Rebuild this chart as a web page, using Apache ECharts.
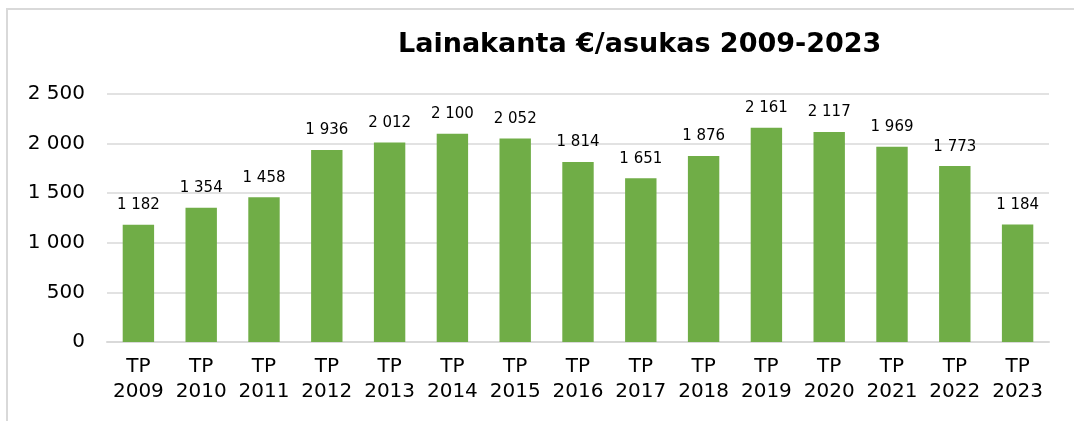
<!DOCTYPE html>
<html><head><meta charset="utf-8">
<script src="https://cdn.jsdelivr.net/npm/echarts@6/dist/echarts.min.js"></script>
<style>html,body{margin:0;padding:0;background:#fff}#c{width:1074px;height:421px}</style>
</head><body><div id="c"></div>
<script>
const title = 'Lainakanta €/asukas 2009-2023';
const categories = ['TP\n2009','TP\n2010','TP\n2011','TP\n2012','TP\n2013','TP\n2014','TP\n2015','TP\n2016','TP\n2017','TP\n2018','TP\n2019','TP\n2020','TP\n2021','TP\n2022','TP\n2023'];
const values = [1182,1354,1458,1936,2012,2100,2052,1814,1651,1876,2161,2117,1969,1773,1184];
const yTicks = [0,500,1000,1500,2000,2500];

function fmt(v){ return String(v).replace(/\B(?=(\d{3})+(?!\d))/g,' '); }
const FONT = 'DejaVu Sans';
const chart = echarts.init(document.getElementById('c'), null, {renderer:'canvas'});
chart.setOption({
  animation:false,
  backgroundColor:'#fff',
  graphic:[{type:'rect', shape:{x:7,y:9,width:1200,height:600}, style:{fill:'none', stroke:'#d9d9d9', lineWidth:2}, silent:true}],
  title:{text:title, left:393, top:26, textStyle:{fontFamily:FONT, fontWeight:'bold', fontSize:27, color:'#000'}},
  grid:{left:107, right:25, top:94, bottom:79},
  xAxis:{type:'category', data:categories,
    axisLine:{lineStyle:{color:'#d9d9d9', width:2}}, axisTick:{show:false},
    axisLabel:{fontFamily:FONT, fontSize:20, color:'#000', margin:12, lineHeight:25, interval:0}},
  yAxis:{type:'value', min:yTicks[0], max:yTicks[yTicks.length-1], interval:500,
    axisLine:{show:false}, axisTick:{show:false},
    splitLine:{lineStyle:{color:'#d9d9d9', width:1.5}},
    axisLabel:{fontFamily:FONT, fontSize:20, color:'#000', margin:22, formatter:v=>fmt(v)}},
  series:[{type:'bar', data:values, barWidth:'50%', itemStyle:{color:'#70ad47'},
    label:{show:true, position:'top', distance:12, fontFamily:FONT, fontSize:15, color:'#000', formatter:p=>fmt(p.value)}}]
});
</script></body></html>
